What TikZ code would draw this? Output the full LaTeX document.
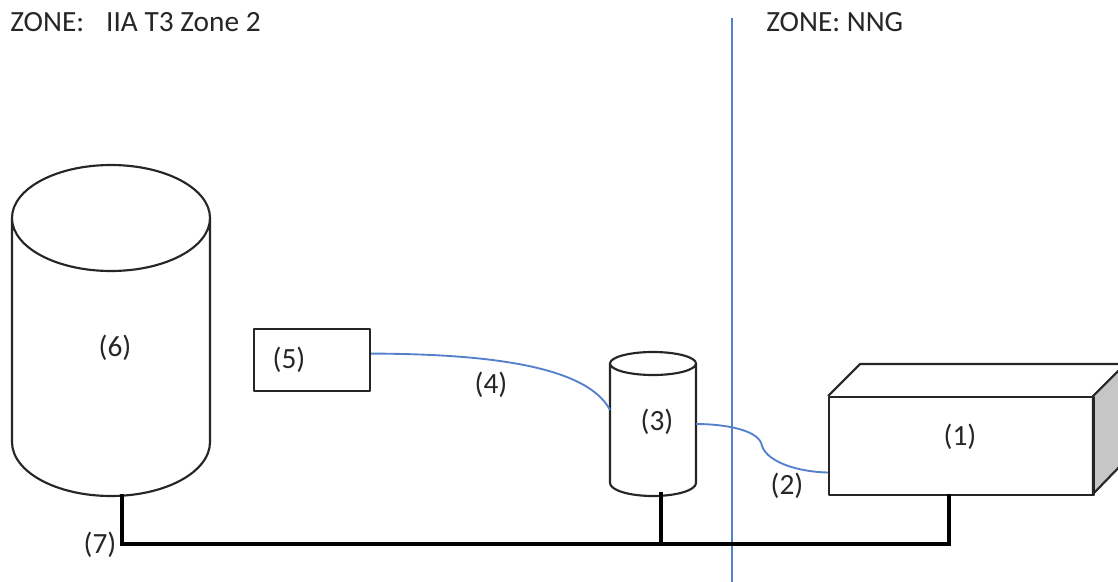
\documentclass[tikz,border=0pt]{standalone}
\usepackage{fontspec}
\setmainfont{Carlito}
\definecolor{bluewire}{HTML}{5580CC}
\definecolor{sidegray}{HTML}{C6C6C6}
\definecolor{inkdark}{HTML}{262626}
\tikzset{
  outline/.style={draw=inkdark,line width=1.6pt,line join=round},
  wire/.style={draw=bluewire,line width=1.4pt},
  bus/.style={draw=black,line width=2.5pt},
  lbl/.style={text=inkdark,font=\fontsize{22}{24}\selectfont,inner sep=0pt},
  zonetxt/.style={lbl,anchor=west}
}
\begin{document}
\begin{tikzpicture}[x=0.75pt,y=-0.75pt]
\useasboundingbox (0,0) rectangle (1118,582);
\begin{scope}
\clip (0,0) rectangle (1118,582);
% zone divider
\coordinate (divtop) at (732,18);
\coordinate (divbot) at (732,582);
\draw[wire] (divtop) -- (divbot);
% tank (6)
\coordinate (t6bot) at (122,494);
\draw[outline] (12,218) arc[start angle=180,end angle=0,x radius=99,y radius=53]
   arc[start angle=0,end angle=-180,x radius=99,y radius=53] -- (12,442)
   arc[start angle=180,end angle=0,x radius=99,y radius=54] -- (210,218);
% box (5)
\node[outline,anchor=north west,inner sep=0pt,
      minimum width=87pt,minimum height=46.5pt] (b5) at (253,327.5) {};
% cylinder (3)
\coordinate (c3left) at (610,410);
\coordinate (c3right) at (696,424);
\coordinate (c3bot) at (661,492);
\draw[outline] (610,363.5) arc[start angle=180,end angle=0,x radius=43,y radius=11.5]
   arc[start angle=0,end angle=-180,x radius=43,y radius=11.5] -- (610,483)
   arc[start angle=180,end angle=0,x radius=43,y radius=13] -- (696,363.5);
% box (1)
\fill[sidegray] (1093,396) -- (1125,364) -- (1125,461) -- (1093,494) -- cycle;
\draw[outline] (828,396) -- (860,364) -- (1125,364) -- (1093,396) -- (1093,494) -- (1125,461);
\node[outline,anchor=north west,inner sep=0pt,minimum width=198.75pt,minimum height=73.5pt] (b1) at (828,396) {};
\coordinate (b1in) at (828,472.5);
\coordinate (b1bot) at (949,494);
% wires
\draw[wire] (b5.east) ++(0,-6) coordinate (b5out)
   (b5out) .. controls (470,354) and (585,362) .. (c3left);
\coordinate (kink) at (762,446);
\draw[wire] (c3right) .. controls (725,424) and (760,430) .. (kink)
   .. controls (768,463) and (800,472) .. (b1in);
% earthing bus
\coordinate (busl) at (122,544);
\coordinate (busm) at (661,544);
\coordinate (busr) at (949,544);
\draw[bus,line join=miter] (t6bot) -- (busl) -- (busr) -- (b1bot);
\draw[bus] (c3bot) -- (busm);
\end{scope}
% labels
\node[lbl] (l6) at (115,347.5) {(6)};
\node[lbl] (l5) at (289,359.5) {(5)};
\node[lbl] (l4) at (491,384.5) {(4)};
\node[lbl] (l3) at (657,421.5) {(3)};
\node[lbl] (l1) at (960,436.5) {(1)};
\node[lbl] (l2) at (787,485.5) {(2)};
\node[lbl] (l7) at (100,544.5) {(7)};
\node[zonetxt] (z1) at (10,22) {ZONE:\hspace{0.75em}IIA T3 Zone 2};
\node[zonetxt] (z2) at (766,22) {ZONE: NNG};
\end{tikzpicture}
\end{document}
